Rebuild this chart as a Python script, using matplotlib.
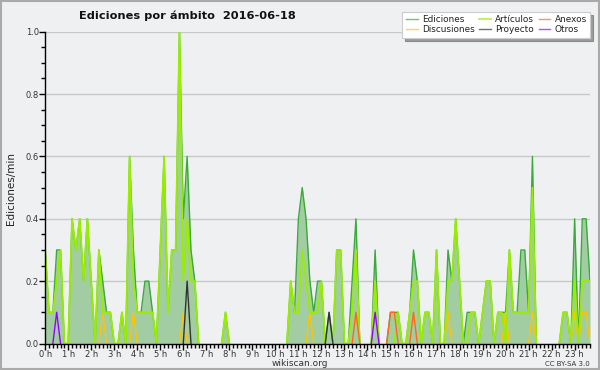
import numpy as np
import matplotlib
matplotlib.use('Agg')
import matplotlib.pyplot as plt
from matplotlib.ticker import MultipleLocator, FixedLocator
from matplotlib.patches import Rectangle

# valores por tramo de 10 minutos (ediciones/min), 6 por hora, de 0:00 a 23:40
ediciones = [
    0.3, 0.1, 0.1, 0.3, 0.3, 0.0,   # 0 h
    0.0, 0.4, 0.3, 0.4, 0.2, 0.4,   # 1 h
    0.2, 0.0, 0.3, 0.2, 0.1, 0.1,   # 2 h
    0.0, 0.0, 0.1, 0.0, 0.6, 0.3,   # 3 h
    0.1, 0.1, 0.2, 0.2, 0.1, 0.0,   # 4 h
    0.3, 0.6, 0.1, 0.3, 0.3, 1.0,   # 5 h
    0.4, 0.6, 0.3, 0.2, 0.0, 0.0,   # 6 h
    0.0, 0.0, 0.0, 0.0, 0.0, 0.1,   # 7 h
    0.0, 0.0, 0.0, 0.0, 0.0, 0.0,   # 8 h
    0.0, 0.0, 0.0, 0.0, 0.0, 0.0,   # 9 h
    0.0, 0.0, 0.0, 0.0, 0.2, 0.1,   # 10 h
    0.4, 0.5, 0.4, 0.2, 0.1, 0.2,   # 11 h
    0.2, 0.0, 0.1, 0.0, 0.3, 0.3,   # 12 h
    0.0, 0.0, 0.2, 0.4, 0.0, 0.0,   # 13 h
    0.0, 0.0, 0.3, 0.0, 0.0, 0.0,   # 14 h
    0.1, 0.1, 0.1, 0.0, 0.0, 0.1,   # 15 h
    0.3, 0.2, 0.0, 0.1, 0.1, 0.0,   # 16 h
    0.3, 0.0, 0.0, 0.3, 0.2, 0.4,   # 17 h
    0.2, 0.0, 0.1, 0.1, 0.1, 0.0,   # 18 h
    0.1, 0.2, 0.2, 0.0, 0.1, 0.1,   # 19 h
    0.1, 0.3, 0.1, 0.1, 0.3, 0.3,   # 20 h
    0.1, 0.6, 0.0, 0.0, 0.0, 0.0,   # 21 h
    0.0, 0.0, 0.0, 0.1, 0.1, 0.0,   # 22 h
    0.4, 0.0, 0.4, 0.4, 0.2,        # 23 h
]
articulos = [
    0.3, 0.1, 0.1, 0.2, 0.3, 0.0,
    0.0, 0.4, 0.3, 0.4, 0.2, 0.4,
    0.2, 0.0, 0.3, 0.1, 0.1, 0.1,
    0.0, 0.0, 0.1, 0.0, 0.6, 0.2,
    0.1, 0.1, 0.1, 0.1, 0.1, 0.0,
    0.3, 0.6, 0.1, 0.3, 0.3, 1.0,
    0.2, 0.4, 0.2, 0.2, 0.0, 0.0,
    0.0, 0.0, 0.0, 0.0, 0.0, 0.1,
    0.0, 0.0, 0.0, 0.0, 0.0, 0.0,
    0.0, 0.0, 0.0, 0.0, 0.0, 0.0,
    0.0, 0.0, 0.0, 0.0, 0.2, 0.1,
    0.1, 0.3, 0.2, 0.1, 0.1, 0.1,
    0.2, 0.0, 0.0, 0.0, 0.3, 0.3,
    0.0, 0.0, 0.1, 0.3, 0.0, 0.0,
    0.0, 0.0, 0.2, 0.0, 0.0, 0.0,
    0.0, 0.0, 0.1, 0.0, 0.0, 0.1,
    0.2, 0.2, 0.0, 0.1, 0.1, 0.0,
    0.3, 0.0, 0.0, 0.2, 0.2, 0.4,
    0.2, 0.0, 0.0, 0.1, 0.1, 0.0,
    0.1, 0.2, 0.2, 0.0, 0.1, 0.1,
    0.0, 0.3, 0.1, 0.1, 0.1, 0.1,
    0.1, 0.5, 0.0, 0.0, 0.0, 0.0,
    0.0, 0.0, 0.0, 0.1, 0.1, 0.0,
    0.2, 0.0, 0.2, 0.2, 0.2,
]
# categorias pequenas: {tramo: valor}, el resto es 0
discusiones = {15: 0.1, 23: 0.1, 36: 0.1, 69: 0.1, 105: 0.1, 120: 0.1,
               127: 0.1, 138: 0.1, 140: 0.1, 141: 0.1}
anexos = {81: 0.1, 90: 0.1, 91: 0.1, 96: 0.1}
proyecto = {37: 0.2, 74: 0.1}
otros = {3: 0.1, 86: 0.1}

n = len(ediciones)
horas = np.arange(n) / 6.0


def serie(d):
    v = np.zeros(n)
    for k in d:
        v[k] = d[k]
    return v


def sin_ceros(v):
    # oculta los tramos planos en 0 (quedan bajo el eje en el original)
    v = np.asarray(v, dtype=float)
    izq = np.r_[0.0, v[:-1]]
    der = np.r_[v[1:], 0.0]
    return np.ma.masked_where((v == 0) & (izq == 0) & (der == 0), v)


bg = '#eff0f1'
fig = plt.figure(figsize=(6, 3.7), dpi=100, facecolor=bg)
ax = fig.add_axes([0.0753, 0.0716, 0.9080, 0.8427])
ax.set_facecolor(bg)

# area y lineas
ax.fill_between(horas, ediciones, 0, color='#a2cda2', lw=0, zorder=2)
ax.plot(horas, sin_ceros(ediciones), color='#3aaa3a', lw=1.0, zorder=3, label='Ediciones')
ax.plot(horas, sin_ceros(serie(discusiones)), color='#ffc400', lw=1.0, zorder=4, label='Discusiones')
ax.plot(horas, sin_ceros(articulos), color='#99ee00', lw=1.3, zorder=4, label='Artículos')
ax.plot(horas, sin_ceros(serie(proyecto)), color='#333333', lw=1.0, zorder=5, label='Proyecto')
ax.plot(horas, sin_ceros(serie(anexos)), color='#ff6a10', lw=1.0, zorder=5, label='Anexos')
ax.plot(horas, sin_ceros(serie(otros)), color='#9900ff', lw=1.0, zorder=5, label='Otros')

ax.set_xlim(0, horas[-1])
ax.set_ylim(0, 1.0)

# ejes
for s in ['top', 'right']:
    ax.spines[s].set_visible(False)
for s in ['left', 'bottom']:
    ax.spines[s].set_linewidth(1.0)
    ax.spines[s].set_zorder(6)

ax.xaxis.set_major_locator(FixedLocator(range(24)))
ax.set_xticklabels(['%d h' % h for h in range(24)])
ax.xaxis.set_minor_locator(MultipleLocator(1 / 6.0))
ax.yaxis.set_major_locator(MultipleLocator(0.2))
ax.yaxis.set_minor_locator(MultipleLocator(0.05))
ax.yaxis.set_major_formatter(matplotlib.ticker.FormatStrFormatter('%.1f'))
ax.tick_params(axis='both', which='major', labelsize=6, labelcolor='#333333',
               length=4, width=1, pad=0.5)
ax.tick_params(axis='both', which='minor', length=3, width=1)
ax.grid(axis='y', which='major', color='#c8c8c8', lw=1.0, zorder=1)
ax.set_axisbelow(True)

# textos
fig.text(0.313, 0.958, 'Ediciones por ámbito  2016-06-18', ha='center', va='center',
         fontsize=8.2, fontweight='bold', color='#111111')
fig.text(0.018, 0.49, 'Ediciones/min', rotation=90, ha='center', va='center',
         fontsize=7.5, color='#222222')
fig.text(0.5, 0.017, 'wikiscan.org', ha='center', va='center', fontsize=6.5, color='#333333')
fig.text(0.983, 0.017, 'CC BY-SA 3.0', ha='right', va='center', fontsize=5, color='#333333')

leg = ax.legend(ncol=3, loc='upper right', bbox_to_anchor=(0.984, 0.968),
                bbox_transform=fig.transFigure, fontsize=6.4, frameon=True,
                fancybox=False, shadow=True, handlelength=1.3, handletextpad=0.5,
                columnspacing=0.5, labelspacing=0.1, borderpad=0.4, borderaxespad=0)
leg.get_frame().set_edgecolor('#cccccc')
leg.get_frame().set_linewidth(0.8)
for t in leg.get_texts():
    t.set_color('#222222')
for l in leg.get_lines():
    l.set_alpha(0.7)

# marco exterior
fig.patches.append(Rectangle((0.0015, 0.0025), 0.997, 0.995, transform=fig.transFigure,
                             fill=False, edgecolor='#aaaaaa', lw=1.5))

plt.savefig('out.png', dpi=100, facecolor=bg)
